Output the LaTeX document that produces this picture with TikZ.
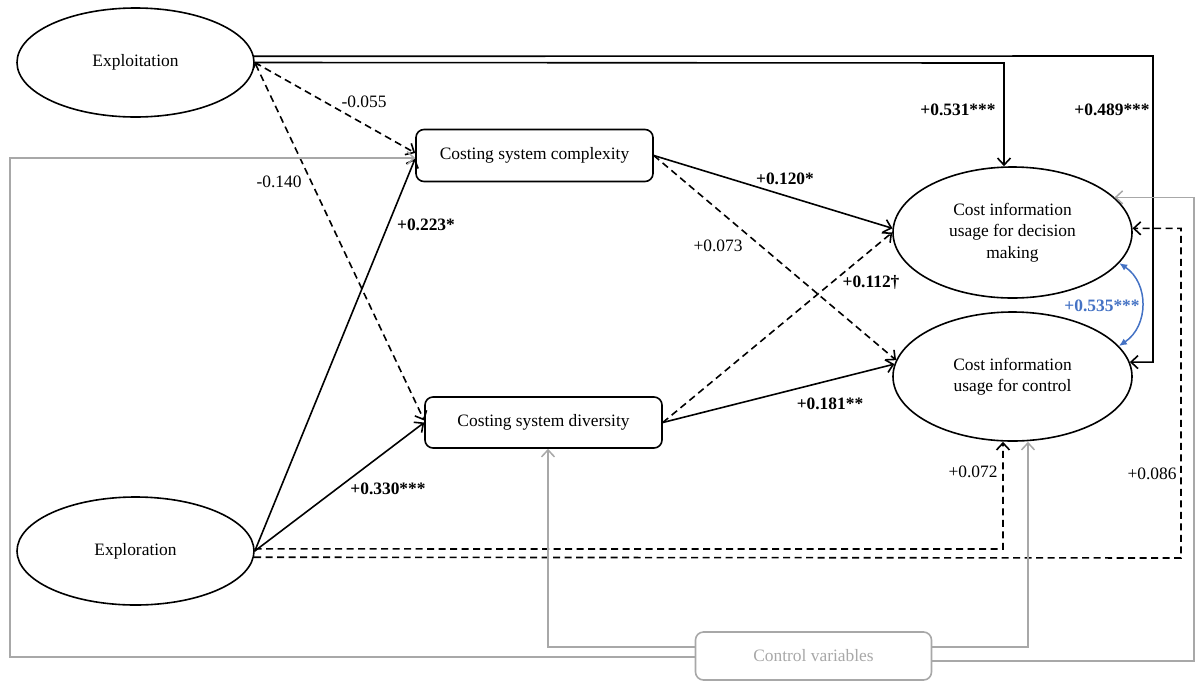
\documentclass[tikz,border=0pt]{standalone}
\usepackage{fontspec}
\setmainfont{Liberation Serif}
\usetikzlibrary{shapes.geometric,arrows.meta,calc}

\definecolor{linkgray}{HTML}{A8A8A8}
\definecolor{corrblue}{HTML}{4472C4}

\begin{document}
\begin{tikzpicture}[x=1pt,y=-1pt,
  font=\fontsize{17.4}{21.5}\selectfont,
  latent/.style={draw, ellipse, line width=1.6pt, inner sep=0pt, align=center},
  measure/.style={draw, rounded corners=8pt, line width=1.6pt, minimum width=237pt,
    minimum height=52pt, inner sep=0pt},
  effect/.style={line width=1.6pt, -{Straight Barb[length=7pt,width=13pt]}},
  nseffect/.style={effect, dash pattern=on 7pt off 4.5pt},
  ctrl/.style={line width=1.5pt, draw=linkgray, -{Straight Barb[length=7pt,width=13pt]}},
  coef/.style={inner sep=1pt}]

\useasboundingbox (0,0) rectangle (1196,681);

% constructs
\node[latent, minimum width=237pt, minimum height=109pt] (expt) at (135.5,62.5) {Exploitation};
\node[latent, minimum width=237pt, minimum height=108pt] (expl) at (135.5,551) {Exploration};
\node[measure] (cmp) at (534.5,155.5) {Costing system complexity};
\node[measure, minimum height=51pt] (div) at (543.5,422.5) {Costing system diversity};
\node[latent, minimum width=239pt, minimum height=131pt] (dec) at (1012.5,232.5)
  {Cost information\\usage for decision\\making};
\node[latent, minimum width=239pt, minimum height=129pt] (ctl) at (1012.5,376.5)
  {Cost information\\usage for control};
\node[measure, draw=linkgray, text=linkgray, minimum width=236pt, minimum height=48pt]
  (cv) at (813.5,656) {Control variables};

% routing corners
\coordinate (tA) at (1004,63);
\coordinate (tB) at (1153,56);
\coordinate (bA) at (1003,549);
\coordinate (bB) at (1181,558);
\coordinate (gL) at (10,657);
\coordinate (gLt) at (10,158);
\coordinate (gR) at (1194,661);
\coordinate (gD) at (548,647);
\coordinate (gC) at (1028,647);

% direct effects of exploitation
\draw[effect] (expt.east) -- (tA) -- (tA |- dec.north);
\draw[effect] (expt.3.4) -- (tB) |- (ctl.7.6);
\draw[nseffect] (expt.east) -- ($(cmp.west)+(0,-2.5)$);
\draw[nseffect, {Straight Barb[length=3.5pt,width=7pt]}-{Straight Barb[length=7pt,width=13pt]}]
  (expt.east) -- ($(div.west)+(0,-2)$);

% direct effects of exploration
\draw[effect] (expl.east) -- ($(cmp.west)+(0,3)$);
\draw[effect] (expl.east) -- (div.west);
\draw[nseffect] (expl.1) -- (bA) -- (bA |- ctl.south);
\draw[nseffect] (expl.-3.7) -- (bB) |- (dec.2.6);

% mediators to outcomes
\draw[effect] (cmp.east) -- (dec.178);
\draw[nseffect] (cmp.east) -- (ctl.172);
\draw[nseffect] (div.east) -- (dec.west);
\draw[effect] (div.east) -- (ctl.174.5);

% control variables
\draw[ctrl] ($(cv.west)+(0,1)$) -- (gL) -- (gLt) -- (gLt -| cmp.west);
\draw[ctrl] ($(cv.east)+(0,5)$) -- (gR) |- (dec.19.5);
\draw[ctrl] ($(cv.west)+(0,-9)$) -- (gD) -- (gD |- div.south);
\draw[ctrl] ($(cv.east)+(0,-9)$) -- (gC) -- (gC |- ctl.south);

% residual correlation between outcomes
\draw[corrblue, line width=1.5pt, {Latex[length=8pt,width=7pt]}-{Latex[length=8pt,width=7pt]}]
  (dec.-16) .. controls +(30,20) and +(30,-20) .. (ctl.16);

% path coefficients
\node[coef] (k531) at (958,110) {\bfseries +0.531***};
\node[coef] (k489) at (1112,110) {\bfseries +0.489***};
\node[coef] (k055) at (364,102) {-0.055};
\node[coef] (k140) at (279,182) {-0.140};
\node[coef] (k223) at (426,225) {\bfseries +0.223*};
\node[coef] (k330) at (388,489) {\bfseries +0.330***};
\node[coef] (k120) at (785,179) {\bfseries +0.120*};
\node[coef] (k073) at (718,246) {+0.073};
\node[coef] (k112) at (871,282) {\bfseries +0.112†};
\node[coef] (k181) at (830,404) {\bfseries +0.181**};
\node[coef, text=corrblue] (k535) at (1102,306) {\bfseries +0.535***};
\node[coef] (k072) at (973,472) {+0.072};
\node[coef] (k086) at (1152,474) {+0.086};

\end{tikzpicture}
\end{document}
